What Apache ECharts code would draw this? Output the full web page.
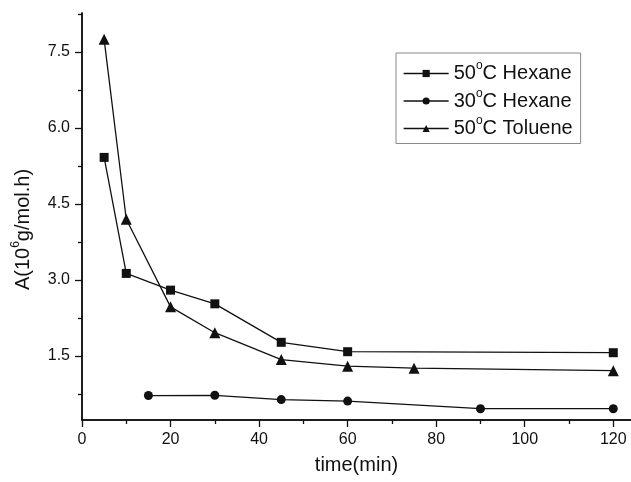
<!DOCTYPE html>
<html>
<head>
<meta charset="utf-8">
<script src="https://cdn.jsdelivr.net/npm/echarts@6/dist/echarts.min.js"></script>
<style>
html,body{margin:0;padding:0;background:#fff;}
#chart{width:631px;height:482px;}
</style>
</head>
<body>
<div id="chart"></div>
<script>
// Data
const seriesNames = ['50{sup|o}C Hexane', '30{sup|o}C Hexane', '50{sup|o}C Toluene'];
const hex50X = [5, 10, 20, 30, 45, 60, 120];
const hex50Y = [5.42, 3.13, 2.80, 2.53, 1.77, 1.585, 1.565];
const hex30X = [15, 30, 45, 60, 90, 120];
const hex30Y = [0.72, 0.725, 0.64, 0.61, 0.46, 0.46];
const tol50X = [5, 10, 20, 30, 45, 60, 75, 120];
const tol50Y = [7.75, 4.20, 2.47, 1.96, 1.43, 1.30, 1.26, 1.21];
const xTicks = [0, 20, 40, 60, 80, 100, 120];
const xMinorTicks = [10, 30, 50, 70, 90, 110];
const yTicks = [1.5, 3.0, 4.5, 6.0, 7.5];
const yMinorTicks = [0.75, 2.25, 3.75, 5.25, 6.75, 8.25];

function pairs(xs, ys) { return xs.map((x, i) => [x, ys[i]]); }

const FONT = 'Liberation Sans, Arial, sans-serif';
const INK = '#111';
const X_MIN = 0, X_MAX = 124, Y_MIN = 0.237, Y_MAX = 8.27;

const chart = echarts.init(document.getElementById('chart'), null, {renderer: 'canvas'});

const baseX = {
  type: 'value', min: X_MIN, max: X_MAX, position: 'bottom',
  axisLine: {show: true, lineStyle: {color: INK, width: 1.5}},
  splitLine: {show: false}
};
const baseY = {
  type: 'value', min: Y_MIN, max: Y_MAX, position: 'left',
  axisLine: {show: true, onZero: false, lineStyle: {color: INK, width: 1.5}},
  splitLine: {show: false}
};

const supStyle = {fontFamily: FONT, fontSize: 12, color: INK, padding: [0, 0, 15, 0]};

const lineSeries = (name, data, symbol, size) => ({
  name: name, type: 'line', data: data,
  symbol: symbol, symbolSize: size,
  lineStyle: {color: INK, width: 1.3},
  itemStyle: {color: INK},
  emphasis: {disabled: true},
  animation: false
});

chart.setOption({
  animation: false,
  backgroundColor: '#fff',
  grid: {left: 82, top: 13, right: 0, bottom: 62, containLabel: false, outerBoundsMode: 'none'},
  xAxis: [
    Object.assign({}, baseX, {
      name: 'time(min)', nameLocation: 'middle', nameGap: 35,
      nameTextStyle: {fontFamily: FONT, fontSize: 20, color: INK},
      axisTick: {show: true, inside: false, length: 7, customValues: xTicks, lineStyle: {color: INK, width: 1.3}},
      axisLabel: {show: true, margin: 12, customValues: xTicks, fontFamily: FONT, fontSize: 16, color: INK}
    }),
    Object.assign({}, baseX, {
      axisTick: {show: true, inside: false, length: 4, customValues: xMinorTicks, lineStyle: {color: INK, width: 1.3}},
      axisLabel: {show: false}
    })
  ],
  yAxis: [
    Object.assign({}, baseY, {
      name: 'A(10{sup|6}g/mol.h)', nameLocation: 'middle', nameGap: 45, nameRotate: 90,
      nameTextStyle: {fontFamily: FONT, fontSize: 20, color: INK, padding: [0, 26, 0, 0], rich: {sup: supStyle}},
      axisTick: {show: true, inside: false, length: 7, customValues: yTicks, lineStyle: {color: INK, width: 1.3}},
      axisLabel: {show: true, margin: 12, customValues: yTicks, fontFamily: FONT, fontSize: 16, color: INK,
        formatter: v => v.toFixed(1)}
    }),
    Object.assign({}, baseY, {
      axisTick: {show: true, inside: false, length: 4, customValues: yMinorTicks, lineStyle: {color: INK, width: 1.3}},
      axisLabel: {show: false}
    })
  ],
  legend: {
    show: true, orient: 'vertical', left: 396, top: 53,
    padding: [7, 8, 5, 7], itemGap: 4,
    itemWidth: 45, itemHeight: 9,
    borderColor: '#888', borderWidth: 1,
    backgroundColor: '#fff',
    textStyle: {fontFamily: FONT, fontSize: 20, color: INK, rich: {sup: supStyle}},
    itemStyle: {color: INK},
    lineStyle: {color: INK, width: 1.3},
    data: seriesNames
  },
  series: [
    lineSeries(seriesNames[0], pairs(hex50X, hex50Y), 'rect', 9),
    lineSeries(seriesNames[1], pairs(hex30X, hex30Y), 'circle', 9),
    lineSeries(seriesNames[2], pairs(tol50X, tol50Y), 'triangle', 11)
  ]
});
</script>
</body>
</html>
